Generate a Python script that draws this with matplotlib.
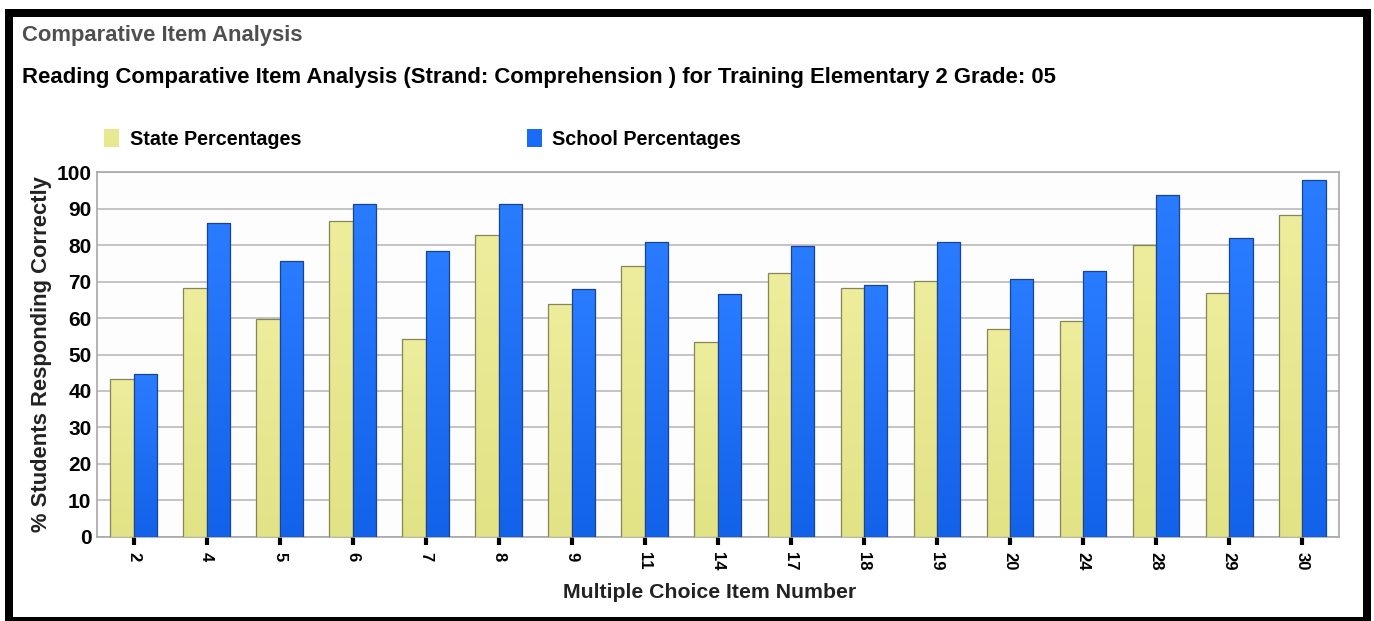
import numpy as np
import matplotlib
matplotlib.use('Agg')
from matplotlib import pyplot as plt
from matplotlib.colors import LinearSegmentedColormap
from matplotlib.patches import Rectangle

# data
items = ['2', '4', '5', '6', '7', '8', '9', '11', '14', '17', '18', '19', '20', '24', '28', '29', '30']
state_pct = [43.3, 68.3, 59.7, 86.5, 54.2, 82.9, 63.9, 74.3, 53.3, 72.4, 68.3, 70.1, 57.0, 59.1, 80.0, 67.0, 88.4]
school_pct = [44.7, 86.1, 75.7, 91.2, 78.3, 91.2, 67.9, 81.0, 66.5, 79.7, 69.2, 81.0, 70.6, 72.9, 93.9, 82.0, 97.8]

W, H = 1374, 621
plt.rcParams['font.family'] = ['Liberation Sans', 'DejaVu Sans']


def fill_gradient(ax, bars, top, bottom):
    """paint each bar with a vertical gradient clipped to the bar"""
    cmap = LinearSegmentedColormap.from_list('g', [bottom, top])
    grad = np.linspace(0, 1, 128).reshape(-1, 1)
    for b in bars:
        x0, y0 = b.get_x(), b.get_y()
        im = ax.imshow(grad, cmap=cmap, origin='lower', aspect='auto',
                       extent=[x0, x0 + b.get_width(), y0, y0 + b.get_height()],
                       zorder=2.9, interpolation='bilinear')
        im.set_clip_path(b)


fig = plt.figure(figsize=(W / 100, H / 100), dpi=100)
fig.patch.set_facecolor('white')

ax = fig.add_axes([97 / W, 1 - 536.7 / H, (1338.7 - 97) / W, (536.7 - 172.3) / H])
ax.set_facecolor('#fdfdfd')

x = np.arange(len(items))
bw = 0.32
b1 = ax.bar(x - bw / 2, state_pct, bw, facecolor='none', edgecolor='#85855a',
            linewidth=0.9, zorder=3, label='State Percentages')
b2 = ax.bar(x + bw / 2, school_pct, bw, facecolor='none', edgecolor='#17449a',
            linewidth=0.9, zorder=3, label='School Percentages')
fill_gradient(ax, b1, '#eded9c', '#e2e286')
fill_gradient(ax, b2, '#2a7cff', '#1362ea')

ax.set_xlim(-0.5, len(items) - 0.5)
ax.set_ylim(0, 100)
ax.set_yticks(range(0, 101, 10))
ax.set_xticks(x)
ax.set_xticklabels(items, rotation=-90, fontweight='bold', fontsize=12)
ax.tick_params(axis='x', length=6, width=3, color='black', pad=5)
ax.tick_params(axis='y', length=0, pad=4, labelsize=15)
for lbl in ax.get_yticklabels():
    lbl.set_fontweight('bold')
ax.grid(axis='y', color='#c4c4c4', linewidth=1.4, zorder=1)
ax.set_axisbelow(True)
for s in ax.spines.values():
    s.set_color('#a8a8a8')
    s.set_linewidth(1.2)

ax.set_ylabel('% Students Responding Correctly', fontsize=15.8, fontweight='bold', color='#222222')
ax.yaxis.set_label_coords(-0.036, 0.5)
ax.set_xlabel('Multiple Choice Item Number', fontsize=15.3, fontweight='bold', color='#222222')
ax.xaxis.set_label_coords(0.493, -0.128)

fig.legend(handles=[b1.patches[0], b2.patches[0]], labels=['State Percentages', 'School Percentages'],
           loc='center left', bbox_to_anchor=(104 / W, 1 - 139 / H), ncol=2, frameon=False,
           prop={'weight': 'bold', 'size': 14.2}, borderpad=0, borderaxespad=0,
           handlelength=0.75, handleheight=1.0, handletextpad=0.55, columnspacing=11.45)
leg = fig.legends[0]
for h, c in zip(leg.legend_handles, ['#e8e890', '#1a6cf8']):
    h.set_facecolor(c)
    h.set_edgecolor('none')

fig.text(22 / W, 1 - 35 / H, 'Comparative Item Analysis', fontsize=15.8, fontweight='bold',
         color='#4f4f4f', va='center', ha='left')
fig.text(22 / W, 1 - 77 / H,
         'Reading Comparative Item Analysis (Strand: Comprehension ) for Training Elementary 2 Grade: 05',
         fontsize=15.9, fontweight='bold', color='black', va='center', ha='left')

# black frame round the panel
for r in [(5, 9, 1365, 8), (5, 9, 8, 612), (1363, 9, 8, 612), (5, 617, 1366, 4)]:
    fig.add_artist(Rectangle((r[0] / W, 1 - (r[1] + r[3]) / H), r[2] / W, r[3] / H,
                             transform=fig.transFigure, facecolor='black', edgecolor='none'))

fig.savefig('out.png', dpi=100)
